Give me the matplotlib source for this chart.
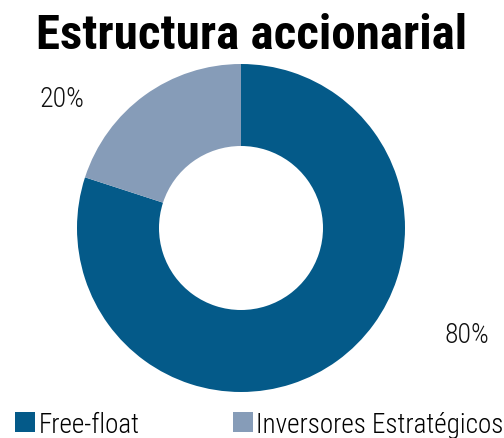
import matplotlib.pyplot as plt
from matplotlib.patches import Patch

# datos
categorias = ['Free-float', 'Inversores Estratégicos']
valores = [80, 20]
colores = ['#045a89', '#869cb8']
etiquetas = ['80%', '20%']

plt.rcParams['font.family'] = ['Roboto Condensed', 'Liberation Sans Narrow', 'Roboto', 'DejaVu Sans']

W, H = 504, 439
fig = plt.figure(figsize=(W / 100, H / 100), dpi=100)

# centro del anillo y radio en pixeles
cx, cy, R = 241, 229, 164
ax = fig.add_axes([0, 0, 1, 1])

wedges, _ = ax.pie(valores, colors=colores, startangle=90, counterclock=False,
                   radius=1, center=(0, 0), frame=True,
                   wedgeprops=dict(width=0.5, linewidth=0))
ax.set_axis_off()
ax.set_xlim(-cx / R, (W - cx) / R)
ax.set_ylim(-(H - cy) / R, cy / R)

# etiquetas de porcentaje
pos_etiquetas = [(1.38, -0.65), (-1.09, 0.79)]
for txt, (x, y) in zip(etiquetas, pos_etiquetas):
    ax.text(x, y, txt, ha='center', va='center', fontsize=20, fontweight='light',
            color='#111111')

fig.text(0.5, 0.917, 'Estructura accionarial', ha='center', va='center',
         fontsize=35.3, fontweight='bold', color='#000000')

handles = [Patch(facecolor=c, edgecolor='none') for c in colores]
fig.legend(handles, categorias, loc='lower left', bbox_to_anchor=(-0.003, -0.036),
           ncol=2, frameon=False, handlelength=0.75, handleheight=0.75,
           handletextpad=0.12, columnspacing=3.45, borderaxespad=0.2,
           prop=dict(size=19.5, weight='light'))

fig.savefig('out.png', dpi=100)
